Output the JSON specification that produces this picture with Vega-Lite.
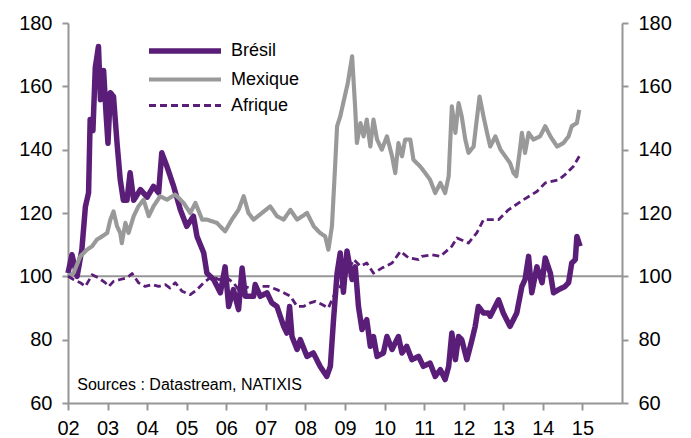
{
  "$schema": "https://vega.github.io/schema/vega-lite/v6.json",
  "width": 554,
  "height": 380,
  "autosize": {"type": "none"},
  "padding": {"left": 68, "top": 23, "right": 69, "bottom": 35},
  "background": "white",
  "config": {
    "font": "Liberation Sans",
    "view": {"stroke": null},
    "axis": {
      "domainColor": "#969696", "domainWidth": 2,
      "tickColor": "#969696", "tickWidth": 2,
      "labelColor": "#000000", "labelFont": "Liberation Sans", "labelFontSize": 20,
      "grid": false, "title": null
    }
  },
  "datasets": {
    "series": [
      {"s":"Brésil","t":2002.00,"v":101},{"s":"Brésil","t":2002.10,"v":106.8},{"s":"Brésil","t":2002.23,"v":100},{"s":"Brésil","t":2002.35,"v":108.4},{"s":"Brésil","t":2002.44,"v":122},{"s":"Brésil","t":2002.52,"v":126.4},{"s":"Brésil","t":2002.56,"v":149.5},{"s":"Brésil","t":2002.63,"v":146},{"s":"Brésil","t":2002.69,"v":166},{"s":"Brésil","t":2002.77,"v":172.6},{"s":"Brésil","t":2002.82,"v":155.8},{"s":"Brésil","t":2002.90,"v":165},{"s":"Brésil","t":2002.96,"v":151.7},{"s":"Brésil","t":2003.01,"v":142},{"s":"Brésil","t":2003.07,"v":158},{"s":"Brésil","t":2003.15,"v":156.8},{"s":"Brésil","t":2003.24,"v":142},{"s":"Brésil","t":2003.32,"v":130.5},{"s":"Brésil","t":2003.40,"v":124},{"s":"Brésil","t":2003.49,"v":124},{"s":"Brésil","t":2003.57,"v":132.7},{"s":"Brésil","t":2003.66,"v":124},{"s":"Brésil","t":2003.83,"v":127.4},{"s":"Brésil","t":2004.00,"v":125},{"s":"Brésil","t":2004.16,"v":128.4},{"s":"Brésil","t":2004.29,"v":126.4},{"s":"Brésil","t":2004.37,"v":139},{"s":"Brésil","t":2004.50,"v":134.7},{"s":"Brésil","t":2004.67,"v":128.4},{"s":"Brésil","t":2004.84,"v":121},{"s":"Brésil","t":2005.00,"v":115.8},{"s":"Brésil","t":2005.17,"v":119},{"s":"Brésil","t":2005.26,"v":112.6},{"s":"Brésil","t":2005.43,"v":107.4},{"s":"Brésil","t":2005.51,"v":101},{"s":"Brésil","t":2005.68,"v":99},{"s":"Brésil","t":2005.85,"v":94.8},{"s":"Brésil","t":2005.97,"v":103},{"s":"Brésil","t":2006.06,"v":90.5},{"s":"Brésil","t":2006.18,"v":95.8},{"s":"Brésil","t":2006.31,"v":89.5},{"s":"Brésil","t":2006.40,"v":102.6},{"s":"Brésil","t":2006.48,"v":93.7},{"s":"Brésil","t":2006.69,"v":93.7},{"s":"Brésil","t":2006.73,"v":97.4},{"s":"Brésil","t":2006.86,"v":93.7},{"s":"Brésil","t":2007.03,"v":94.8},{"s":"Brésil","t":2007.15,"v":91.6},{"s":"Brésil","t":2007.28,"v":90.5},{"s":"Brésil","t":2007.45,"v":84.2},{"s":"Brésil","t":2007.53,"v":82.1},{"s":"Brésil","t":2007.60,"v":90.5},{"s":"Brésil","t":2007.66,"v":81},{"s":"Brésil","t":2007.79,"v":76.9},{"s":"Brésil","t":2007.87,"v":80},{"s":"Brésil","t":2008.04,"v":74.7},{"s":"Brésil","t":2008.20,"v":75.8},{"s":"Brésil","t":2008.37,"v":71.6},{"s":"Brésil","t":2008.54,"v":68.4},{"s":"Brésil","t":2008.63,"v":71.6},{"s":"Brésil","t":2008.71,"v":86.3},{"s":"Brésil","t":2008.80,"v":101},{"s":"Brésil","t":2008.88,"v":107.4},{"s":"Brésil","t":2008.96,"v":95},{"s":"Brésil","t":2009.05,"v":108},{"s":"Brésil","t":2009.18,"v":99},{"s":"Brésil","t":2009.26,"v":103},{"s":"Brésil","t":2009.34,"v":90.5},{"s":"Brésil","t":2009.43,"v":83.2},{"s":"Brésil","t":2009.55,"v":86.3},{"s":"Brésil","t":2009.64,"v":77.9},{"s":"Brésil","t":2009.72,"v":81},{"s":"Brésil","t":2009.81,"v":74.7},{"s":"Brésil","t":2009.97,"v":75.8},{"s":"Brésil","t":2010.06,"v":81},{"s":"Brésil","t":2010.19,"v":76.9},{"s":"Brésil","t":2010.27,"v":79},{"s":"Brésil","t":2010.35,"v":81},{"s":"Brésil","t":2010.44,"v":75.8},{"s":"Brésil","t":2010.56,"v":77.9},{"s":"Brésil","t":2010.69,"v":73.7},{"s":"Brésil","t":2010.86,"v":74.7},{"s":"Brésil","t":2010.98,"v":71.6},{"s":"Brésil","t":2011.15,"v":72.6},{"s":"Brésil","t":2011.28,"v":68.4},{"s":"Brésil","t":2011.41,"v":70.5},{"s":"Brésil","t":2011.53,"v":67.4},{"s":"Brésil","t":2011.62,"v":71.6},{"s":"Brésil","t":2011.70,"v":82.1},{"s":"Brésil","t":2011.79,"v":73.7},{"s":"Brésil","t":2011.87,"v":81},{"s":"Brésil","t":2011.95,"v":80},{"s":"Brésil","t":2012.08,"v":73.7},{"s":"Brésil","t":2012.21,"v":80},{"s":"Brésil","t":2012.29,"v":84.2},{"s":"Brésil","t":2012.37,"v":90.5},{"s":"Brésil","t":2012.50,"v":88.4},{"s":"Brésil","t":2012.63,"v":88.4},{"s":"Brésil","t":2012.67,"v":87.4},{"s":"Brésil","t":2012.88,"v":92.6},{"s":"Brésil","t":2013.00,"v":88.4},{"s":"Brésil","t":2013.17,"v":84.2},{"s":"Brésil","t":2013.34,"v":88.4},{"s":"Brésil","t":2013.47,"v":96.8},{"s":"Brésil","t":2013.55,"v":99},{"s":"Brésil","t":2013.64,"v":106.3},{"s":"Brésil","t":2013.72,"v":94.8},{"s":"Brésil","t":2013.85,"v":103},{"s":"Brésil","t":2013.98,"v":98},{"s":"Brésil","t":2014.06,"v":105.8},{"s":"Brésil","t":2014.19,"v":101},{"s":"Brésil","t":2014.27,"v":94.8},{"s":"Brésil","t":2014.40,"v":95.8},{"s":"Brésil","t":2014.56,"v":96.8},{"s":"Brésil","t":2014.65,"v":98},{"s":"Brésil","t":2014.73,"v":104.2},{"s":"Brésil","t":2014.82,"v":105.3},{"s":"Brésil","t":2014.86,"v":112.6},{"s":"Brésil","t":2014.94,"v":109.5},
      {"s":"Mexique","t":2002.00,"v":100},{"s":"Mexique","t":2002.14,"v":101},{"s":"Mexique","t":2002.31,"v":106.3},{"s":"Mexique","t":2002.48,"v":108.4},{"s":"Mexique","t":2002.61,"v":109.5},{"s":"Mexique","t":2002.73,"v":111.6},{"s":"Mexique","t":2002.86,"v":112.6},{"s":"Mexique","t":2002.99,"v":113.7},{"s":"Mexique","t":2003.07,"v":117.9},{"s":"Mexique","t":2003.15,"v":120.5},{"s":"Mexique","t":2003.24,"v":115.8},{"s":"Mexique","t":2003.32,"v":113.7},{"s":"Mexique","t":2003.36,"v":110.5},{"s":"Mexique","t":2003.45,"v":116.9},{"s":"Mexique","t":2003.53,"v":113.7},{"s":"Mexique","t":2003.66,"v":119},{"s":"Mexique","t":2003.78,"v":122.1},{"s":"Mexique","t":2003.91,"v":124.2},{"s":"Mexique","t":2004.04,"v":119},{"s":"Mexique","t":2004.16,"v":122.1},{"s":"Mexique","t":2004.33,"v":125.3},{"s":"Mexique","t":2004.50,"v":124.2},{"s":"Mexique","t":2004.71,"v":125.8},{"s":"Mexique","t":2004.92,"v":123.2},{"s":"Mexique","t":2005.09,"v":120},{"s":"Mexique","t":2005.22,"v":123.2},{"s":"Mexique","t":2005.39,"v":117.9},{"s":"Mexique","t":2005.51,"v":117.9},{"s":"Mexique","t":2005.76,"v":116.9},{"s":"Mexique","t":2005.97,"v":114.2},{"s":"Mexique","t":2006.14,"v":117.9},{"s":"Mexique","t":2006.31,"v":121},{"s":"Mexique","t":2006.44,"v":125.3},{"s":"Mexique","t":2006.56,"v":120},{"s":"Mexique","t":2006.69,"v":117.9},{"s":"Mexique","t":2006.90,"v":120},{"s":"Mexique","t":2007.11,"v":122.1},{"s":"Mexique","t":2007.28,"v":119},{"s":"Mexique","t":2007.45,"v":117.9},{"s":"Mexique","t":2007.62,"v":121},{"s":"Mexique","t":2007.79,"v":117.9},{"s":"Mexique","t":2008.04,"v":120},{"s":"Mexique","t":2008.21,"v":115.8},{"s":"Mexique","t":2008.37,"v":113.7},{"s":"Mexique","t":2008.50,"v":112.6},{"s":"Mexique","t":2008.58,"v":108.4},{"s":"Mexique","t":2008.67,"v":115.8},{"s":"Mexique","t":2008.75,"v":134.7},{"s":"Mexique","t":2008.80,"v":147.4},{"s":"Mexique","t":2008.88,"v":150.5},{"s":"Mexique","t":2008.97,"v":155.5},{"s":"Mexique","t":2009.07,"v":161},{"s":"Mexique","t":2009.18,"v":169.5},{"s":"Mexique","t":2009.26,"v":152.6},{"s":"Mexique","t":2009.30,"v":142.1},{"s":"Mexique","t":2009.39,"v":148.4},{"s":"Mexique","t":2009.47,"v":144.2},{"s":"Mexique","t":2009.55,"v":149.5},{"s":"Mexique","t":2009.64,"v":141},{"s":"Mexique","t":2009.72,"v":149.5},{"s":"Mexique","t":2009.81,"v":143.2},{"s":"Mexique","t":2009.93,"v":140},{"s":"Mexique","t":2010.06,"v":144.2},{"s":"Mexique","t":2010.19,"v":137.9},{"s":"Mexique","t":2010.27,"v":132.6},{"s":"Mexique","t":2010.35,"v":142.1},{"s":"Mexique","t":2010.44,"v":137.9},{"s":"Mexique","t":2010.52,"v":143.2},{"s":"Mexique","t":2010.65,"v":143.2},{"s":"Mexique","t":2010.73,"v":136.8},{"s":"Mexique","t":2010.90,"v":134.7},{"s":"Mexique","t":2011.03,"v":132.6},{"s":"Mexique","t":2011.15,"v":130.5},{"s":"Mexique","t":2011.28,"v":126.3},{"s":"Mexique","t":2011.41,"v":129.5},{"s":"Mexique","t":2011.53,"v":126.3},{"s":"Mexique","t":2011.62,"v":131.6},{"s":"Mexique","t":2011.70,"v":153.7},{"s":"Mexique","t":2011.79,"v":145.3},{"s":"Mexique","t":2011.87,"v":154.7},{"s":"Mexique","t":2011.95,"v":150.5},{"s":"Mexique","t":2012.04,"v":143.2},{"s":"Mexique","t":2012.12,"v":139},{"s":"Mexique","t":2012.25,"v":141},{"s":"Mexique","t":2012.33,"v":149.5},{"s":"Mexique","t":2012.40,"v":156.8},{"s":"Mexique","t":2012.50,"v":150.5},{"s":"Mexique","t":2012.59,"v":145.3},{"s":"Mexique","t":2012.67,"v":141},{"s":"Mexique","t":2012.80,"v":144.2},{"s":"Mexique","t":2012.93,"v":140},{"s":"Mexique","t":2013.05,"v":137.9},{"s":"Mexique","t":2013.17,"v":135.8},{"s":"Mexique","t":2013.26,"v":132.6},{"s":"Mexique","t":2013.33,"v":131.6},{"s":"Mexique","t":2013.41,"v":139},{"s":"Mexique","t":2013.47,"v":145.3},{"s":"Mexique","t":2013.55,"v":139},{"s":"Mexique","t":2013.64,"v":145.3},{"s":"Mexique","t":2013.76,"v":143.2},{"s":"Mexique","t":2013.93,"v":144.2},{"s":"Mexique","t":2014.06,"v":147.4},{"s":"Mexique","t":2014.19,"v":144.2},{"s":"Mexique","t":2014.36,"v":141},{"s":"Mexique","t":2014.52,"v":142.1},{"s":"Mexique","t":2014.65,"v":144.2},{"s":"Mexique","t":2014.73,"v":147.4},{"s":"Mexique","t":2014.86,"v":148.4},{"s":"Mexique","t":2014.92,"v":152.6},
      {"s":"Afrique","t":2002.00,"v":100},{"s":"Afrique","t":2002.14,"v":99},{"s":"Afrique","t":2002.31,"v":98},{"s":"Afrique","t":2002.44,"v":96.8},{"s":"Afrique","t":2002.61,"v":100.5},{"s":"Afrique","t":2002.77,"v":99.5},{"s":"Afrique","t":2002.94,"v":98},{"s":"Afrique","t":2003.03,"v":96.8},{"s":"Afrique","t":2003.15,"v":98.4},{"s":"Afrique","t":2003.32,"v":99},{"s":"Afrique","t":2003.49,"v":99.5},{"s":"Afrique","t":2003.62,"v":100.9},{"s":"Afrique","t":2003.78,"v":98},{"s":"Afrique","t":2003.95,"v":96.8},{"s":"Afrique","t":2004.12,"v":97.4},{"s":"Afrique","t":2004.29,"v":96.8},{"s":"Afrique","t":2004.46,"v":97.4},{"s":"Afrique","t":2004.58,"v":96.3},{"s":"Afrique","t":2004.71,"v":98},{"s":"Afrique","t":2004.88,"v":95.3},{"s":"Afrique","t":2005.09,"v":94.2},{"s":"Afrique","t":2005.26,"v":95.8},{"s":"Afrique","t":2005.43,"v":98},{"s":"Afrique","t":2005.64,"v":100},{"s":"Afrique","t":2005.81,"v":99},{"s":"Afrique","t":2006.02,"v":99.5},{"s":"Afrique","t":2006.18,"v":98},{"s":"Afrique","t":2006.31,"v":95.8},{"s":"Afrique","t":2006.48,"v":96.8},{"s":"Afrique","t":2006.69,"v":95.8},{"s":"Afrique","t":2006.86,"v":96.8},{"s":"Afrique","t":2007.07,"v":96.8},{"s":"Afrique","t":2007.28,"v":95.8},{"s":"Afrique","t":2007.45,"v":94.8},{"s":"Afrique","t":2007.62,"v":93.7},{"s":"Afrique","t":2007.79,"v":90.5},{"s":"Afrique","t":2007.95,"v":90.5},{"s":"Afrique","t":2008.12,"v":91.6},{"s":"Afrique","t":2008.25,"v":92.1},{"s":"Afrique","t":2008.42,"v":91.1},{"s":"Afrique","t":2008.58,"v":90},{"s":"Afrique","t":2008.71,"v":93.7},{"s":"Afrique","t":2008.88,"v":96.8},{"s":"Afrique","t":2009.05,"v":101},{"s":"Afrique","t":2009.22,"v":105.3},{"s":"Afrique","t":2009.39,"v":103.2},{"s":"Afrique","t":2009.55,"v":104.2},{"s":"Afrique","t":2009.72,"v":101},{"s":"Afrique","t":2009.93,"v":102.6},{"s":"Afrique","t":2010.19,"v":104.2},{"s":"Afrique","t":2010.40,"v":107.9},{"s":"Afrique","t":2010.61,"v":105.8},{"s":"Afrique","t":2010.86,"v":105.3},{"s":"Afrique","t":2010.94,"v":106.3},{"s":"Afrique","t":2011.20,"v":106.8},{"s":"Afrique","t":2011.41,"v":106.3},{"s":"Afrique","t":2011.70,"v":109.5},{"s":"Afrique","t":2011.83,"v":112.1},{"s":"Afrique","t":2012.12,"v":110.5},{"s":"Afrique","t":2012.33,"v":113.7},{"s":"Afrique","t":2012.50,"v":117.9},{"s":"Afrique","t":2012.67,"v":117.9},{"s":"Afrique","t":2012.88,"v":117.9},{"s":"Afrique","t":2013.13,"v":121},{"s":"Afrique","t":2013.26,"v":122.1},{"s":"Afrique","t":2013.51,"v":124.2},{"s":"Afrique","t":2013.85,"v":126.8},{"s":"Afrique","t":2014.06,"v":129.5},{"s":"Afrique","t":2014.40,"v":130.5},{"s":"Afrique","t":2014.56,"v":132.1},{"s":"Afrique","t":2014.77,"v":134.7},{"s":"Afrique","t":2014.92,"v":137.9}
    ],
    "ref": [{"v": 100}],
    "note": [{"t": 2002.235, "v": 65.6, "label": "Sources : Datastream, NATIXIS"}]
  },
  "layer": [
    {
      "data": {"name": "ref"},
      "mark": {"type": "rule", "color": "#969696", "strokeWidth": 2},
      "encoding": {
        "y": {
          "field": "v", "type": "quantitative",
          "scale": {"domain": [60, 180], "nice": false, "zero": false},
          "axis": {"orient": "right", "values": [60, 80, 100, 120, 140, 160, 180], "tickSize": 6, "labelPadding": 10, "title": null}
        }
      }
    },
    {
      "data": {"name": "series"},
      "mark": {"type": "line", "strokeJoin": "round", "strokeCap": "butt"},
      "encoding": {
        "x": {
          "field": "t", "type": "quantitative",
          "scale": {"domain": [2002, 2016], "nice": false, "zero": false},
          "axis": {
            "values": [2002, 2003, 2004, 2005, 2006, 2007, 2008, 2009, 2010, 2011, 2012, 2013, 2014, 2015],
            "labelExpr": "slice(toString(datum.value), 2)",
            "tickSize": 7, "labelPadding": 8, "title": null, "labelFlush": false, "labelOverlap": false
          }
        },
        "y": {
          "field": "v", "type": "quantitative",
          "scale": {"domain": [60, 180], "nice": false, "zero": false},
          "axis": {"orient": "left", "values": [60, 80, 100, 120, 140, 160, 180], "tickSize": 6, "labelPadding": 10, "title": null}
        },
        "color": {
          "field": "s", "type": "nominal",
          "scale": {"domain": ["Brésil", "Mexique", "Afrique"], "range": ["#5A1E78", "#999999", "#5A1E78"]},
          "legend": {
            "orient": "none", "legendX": 105, "legendY": 16, "title": null,
            "symbolType": "M-4,0H4", "symbolSize": 324, "labelFontSize": 18, "labelFont": "Liberation Sans",
            "labelColor": "#000000", "labelOffset": 34, "rowPadding": 6, "padding": 0, "labelLimit": 300
          }
        },
        "strokeWidth": {
          "field": "s", "type": "nominal",
          "scale": {"domain": ["Brésil", "Mexique", "Afrique"], "range": [5.5, 2.8, 2.8]},
          "legend": {
            "orient": "none", "legendX": 105, "legendY": 16, "title": null,
            "symbolType": "M-4,0H4", "symbolSize": 324, "labelFontSize": 18, "labelFont": "Liberation Sans",
            "labelColor": "#000000", "labelOffset": 34, "rowPadding": 6, "padding": 0, "labelLimit": 300
          }
        },
        "strokeDash": {
          "field": "s", "type": "nominal",
          "scale": {"domain": ["Brésil", "Mexique", "Afrique"], "range": [[1, 0], [1, 0], [7, 4]]},
          "legend": {
            "orient": "none", "legendX": 105, "legendY": 16, "title": null,
            "symbolType": "M-4,0H4", "symbolSize": 324, "labelFontSize": 18, "labelFont": "Liberation Sans",
            "labelColor": "#000000", "labelOffset": 34, "rowPadding": 6, "padding": 0, "labelLimit": 300
          }
        }
      }
    },
    {
      "data": {"name": "note"},
      "mark": {"type": "text", "align": "left", "baseline": "middle", "fontSize": 16, "font": "Liberation Sans", "color": "#000000"},
      "encoding": {
        "x": {"field": "t", "type": "quantitative"},
        "y": {"field": "v", "type": "quantitative", "axis": null},
        "text": {"field": "label"}
      }
    }
  ],
  "resolve": {"axis": {"y": "independent"}}
}
